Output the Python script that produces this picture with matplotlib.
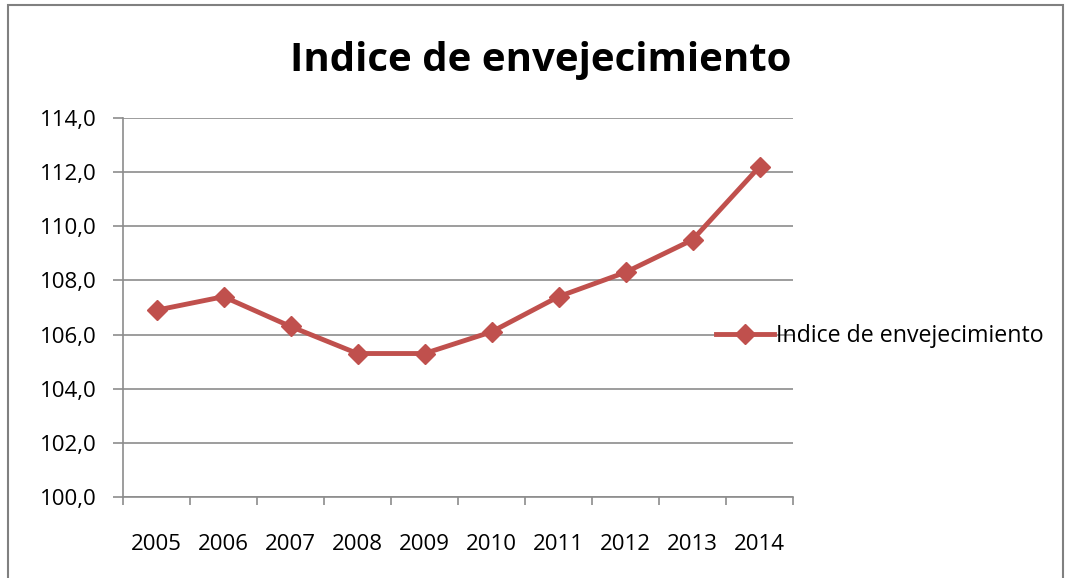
import numpy as np
import matplotlib
matplotlib.use("Agg")
import matplotlib.pyplot as plt
from matplotlib.ticker import FuncFormatter, FixedLocator
from matplotlib.patches import Rectangle

years = ["2005", "2006", "2007", "2008", "2009", "2010", "2011", "2012", "2013", "2014"]
indice = [106.9, 107.4, 106.3, 105.3, 105.3, 106.1, 107.4, 108.3, 109.5, 112.2]
series_name = "Indice de envejecimiento"

plt.rcParams['font.family'] = ['Open Sans', 'DejaVu Sans']

red = "#C0504D"
grid_col = "#8C8C8C"

fig = plt.figure(figsize=(10.69, 5.78), dpi=100)
ax = fig.add_axes([123/1069, 81/578, 670/1069, 379/578])

x = np.arange(len(years))
line, = ax.plot(x, indice, color=red, lw=3.5, marker="D", ms=10, label=series_name)

ax.set_xlim(-0.5, len(years) - 0.5)
ax.set_ylim(100, 114)
ax.set_yticks(np.arange(100, 115, 2))
ax.yaxis.set_major_formatter(FuncFormatter(lambda v, p: f"{v:.1f}".replace(".", ",")))
ax.yaxis.grid(True, color=grid_col, lw=1.2)
ax.set_axisbelow(True)

ax.set_xticks(x)
ax.set_xticklabels(years)
ax.xaxis.set_minor_locator(FixedLocator(np.arange(-0.5, len(years), 1)))
ax.tick_params(axis="x", which="major", length=0, pad=27, labelsize=16, colors="#000000")
ax.tick_params(axis="x", which="minor", length=6, width=1.2, color=grid_col)
ax.tick_params(axis="y", length=7, width=1.2, color=grid_col, labelsize=16, pad=12)

for s in ["top", "right"]:
    ax.spines[s].set_visible(False)
for s in ["left", "bottom"]:
    ax.spines[s].set_color(grid_col)
    ax.spines[s].set_linewidth(1.2)

fig.text(541/1069, 1 - 60/578, series_name, ha="center", va="center",
         fontsize=29, fontweight="bold", family=['Open Sans', 'DejaVu Sans'])

fig.legend(handles=[line], loc="center left",
           bbox_to_anchor=(716/1069, 1 - 336/578),
           frameon=False, fontsize=16.7, handlelength=2.5, handletextpad=0.1,
           borderpad=0.0, borderaxespad=0.0)

fig.patches.append(Rectangle((8/1069, -0.01), 1055/1069, 1 - 5/578 + 0.01,
                             transform=fig.transFigure, fill=False,
                             edgecolor="#808080", lw=1.5))

fig.savefig("out.png", dpi=100)
